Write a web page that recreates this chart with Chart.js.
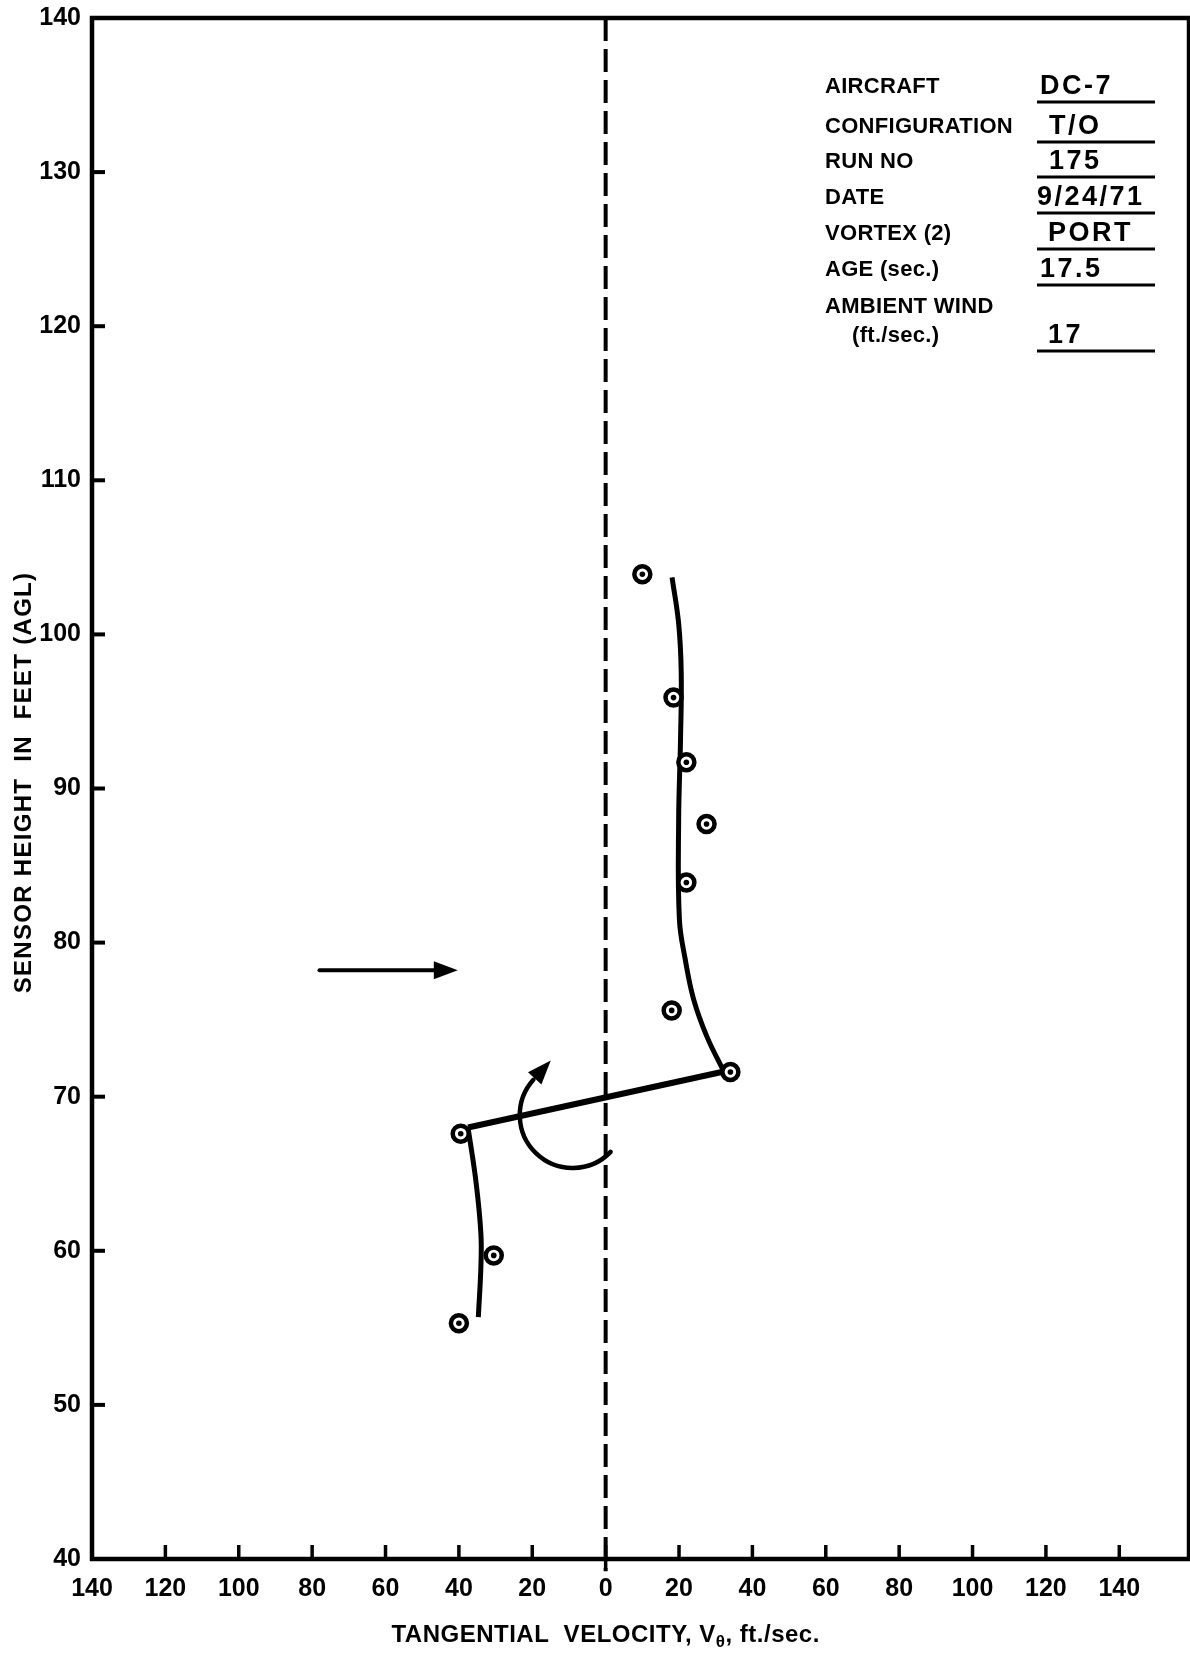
<!DOCTYPE html>
<html>
<head>
<meta charset="utf-8">
<script src="https://cdn.jsdelivr.net/npm/chart.js@4.4.0/dist/chart.umd.min.js"></script>
<style>
  html, body { margin: 0; padding: 0; background: #fff; }
  #wrap { width: 1190px; height: 1656px; }
</style>
</head>
<body>
<div id="wrap"><canvas id="chart" width="1190" height="1656"></canvas></div>
<script>
// ==================================================
// DATA
// ==================================================
// measured points: tangential velocity (ft/sec, left of 0 is negative) vs sensor height (ft)
const obsVelocity = [10, 18.5, 22, 27.5, 22, 18, 34, -39.5, -30.5, -40];
const obsHeight = [103.9, 95.9, 91.7, 87.7, 83.9, 75.6, 71.6, 67.6, 59.7, 55.3];

// faired curve through the upper points
const upperFitVelocity = [18.1, 19.9, 20.6, 20.4, 19.9, 20.1, 21.7, 24.0, 27.6, 32.3];
const upperFitHeight = [103.7, 100.7, 97.5, 93.1, 88, 81.5, 78.9, 76.3, 73.9, 71.6];

// straight jump across the core
const coreVelocity = [33.5, -37.5];
const coreHeight = [71.7, 68.0];

// faired curve through the lower points
const lowerFitVelocity = [-37.5, -35.3, -34.0, -34.0, -34.7];
const lowerFitHeight = [68.0, 64.4, 61.1, 59.0, 55.7];

// vortex centre line (dashed)
const zeroLineVelocity = [0, 0];
const zeroLineHeight = [140, 39.2];

// wind arrow + rotation arrow (in data units)
const windArrowVelocity = [-78, -40.3];
const windArrowHeight = 78.2;
const rotationCentre = [-9, 68.8];
const rotationRadius = 14.4;

// axis ticks
const xTickValues = [-140, -120, -100, -80, -60, -40, -20, 0, 20, 40, 60, 80, 100, 120, 140];
const yTickValues = [40, 50, 60, 70, 80, 90, 100, 110, 120, 130, 140];

// run info box
const infoLabels = ["AIRCRAFT", "CONFIGURATION", "RUN NO", "DATE", "VORTEX (2)", "AGE (sec.)", "AMBIENT WIND"];
const infoValues = ["DC-7", "T/O", "175", "9/24/71", "PORT", "17.5", "17"];

// ==================================================
// HELPERS
// ==================================================
const toPoints = (xs, ys) => xs.map((x, i) => ({ x: x, y: ys[i] }));
const FONT = "'Liberation Sans', Arial, sans-serif";

function arrowHead(ctx, tipX, tipY, angle, len, halfW) {
  ctx.save();
  ctx.translate(tipX, tipY);
  ctx.rotate(angle);
  ctx.beginPath();
  ctx.moveTo(0, 0);
  ctx.lineTo(-len, -halfW);
  ctx.lineTo(-len, halfW);
  ctx.closePath();
  ctx.fill();
  ctx.restore();
}

// ==================================================
// PLUGIN: frame, inward ticks, arrows, titles, info box
// ==================================================
const paperPlugin = {
  id: "paper",
  beforeDraw(chart) {
    const ctx = chart.ctx;
    ctx.save();
    ctx.fillStyle = "#fff";
    ctx.fillRect(0, 0, chart.width, chart.height);
    ctx.restore();
  },
  afterDraw(chart) {
    const ctx = chart.ctx;
    const xs = chart.scales.x;
    const ys = chart.scales.y;
    const a = chart.chartArea;
    ctx.save();
    ctx.strokeStyle = "#000";
    ctx.fillStyle = "#000";
    ctx.lineCap = "butt";

    // frame
    ctx.lineWidth = 4.5;
    ctx.strokeRect(a.left, a.top, a.right - a.left, a.bottom - a.top);

    // inward ticks on x
    ctx.lineWidth = 3.5;
    xs.ticks.forEach((t) => {
      if (t.value <= xs.min) return;
      const px = xs.getPixelForValue(t.value);
      ctx.beginPath();
      ctx.moveTo(px, a.bottom - 14);
      ctx.lineTo(px, a.bottom + (t.value === 0 ? 10 : 0));
      ctx.stroke();
    });
    // inward ticks on y
    ctx.lineWidth = 4;
    ys.ticks.forEach((t) => {
      if (t.value <= ys.min || t.value >= ys.max) return;
      const py = ys.getPixelForValue(t.value);
      ctx.beginPath();
      ctx.moveTo(a.left, py);
      ctx.lineTo(a.left + 13, py);
      ctx.stroke();
    });

    // wind arrow
    const wx0 = xs.getPixelForValue(windArrowVelocity[0]);
    const wx1 = xs.getPixelForValue(windArrowVelocity[1]);
    const wy = ys.getPixelForValue(windArrowHeight);
    ctx.lineWidth = 4;
    ctx.lineCap = "round";
    ctx.beginPath();
    ctx.moveTo(wx0, wy);
    ctx.lineTo(wx1 - 20, wy);
    ctx.stroke();
    arrowHead(ctx, wx1, wy, 0, 24, 9);

    // rotation arrow
    const cx = xs.getPixelForValue(rotationCentre[0]);
    const cy = ys.getPixelForValue(rotationCentre[1]);
    const r = Math.abs(xs.getPixelForValue(rotationRadius) - xs.getPixelForValue(0));
    const a0 = (44 * Math.PI) / 180;
    const a1 = (222 * Math.PI) / 180;
    ctx.lineWidth = 4.5;
    ctx.beginPath();
    ctx.arc(cx, cy, r, a0, a1, false);
    ctx.stroke();
    const ex = cx + r * Math.cos(a1);
    const ey = cy + r * Math.sin(a1);
    const dir = a1 + Math.PI / 2;
    arrowHead(ctx, ex + 26 * Math.cos(dir), ey + 26 * Math.sin(dir), dir, 24, 9);

    // axis titles
    ctx.lineCap = "butt";
    ctx.textBaseline = "middle";
    ctx.font = "bold 24px " + FONT;
    ctx.letterSpacing = "1.3px";
    ctx.save();
    ctx.translate(24, (a.top + a.bottom) / 2 - 6);
    ctx.rotate(-Math.PI / 2);
    ctx.textAlign = "center";
    ctx.fillText("SENSOR HEIGHT  IN  FEET (AGL)", 0, 0);
    ctx.restore();

    ctx.letterSpacing = "0.5px";
    const partA = "TANGENTIAL  VELOCITY, V";
    const partB = "\u03b8";
    const partC = ", ft./sec.";
    ctx.font = "bold 24px " + FONT;
    const wA = ctx.measureText(partA).width;
    const wC = ctx.measureText(partC).width;
    ctx.font = "bold 17px " + FONT;
    const wB = ctx.measureText(partB).width;
    const total = wA + wB + wC;
    let tx = xs.getPixelForValue(0) - total / 2;
    const ty = 1635;
    ctx.textAlign = "left";
    ctx.font = "bold 24px " + FONT;
    ctx.fillText(partA, tx, ty);
    tx += wA;
    ctx.font = "bold 17px " + FONT;
    ctx.fillText(partB, tx, ty + 7);
    tx += wB;
    ctx.font = "bold 24px " + FONT;
    ctx.fillText(partC, tx, ty);

    // info box
    ctx.letterSpacing = "0.3px";
    ctx.font = "bold 22px " + FONT;
    const rowY = [87, 127, 162, 198, 234, 270, 307];
    infoLabels.forEach((lab, i) => ctx.fillText(lab, 825, rowY[i]));
    ctx.fillText("(ft./sec.)", 852, 336);
    const valY = [87, 127, 162, 198, 234, 270, 336];
    const valX = [1040, 1049, 1049, 1037, 1048, 1040, 1048];
    ctx.letterSpacing = "2.5px";
    ctx.font = "bold 27px " + FONT;
    infoValues.forEach((v, i) => ctx.fillText(v, valX[i], valY[i]));
    ctx.lineWidth = 3;
    valY.forEach((y) => {
      ctx.beginPath();
      ctx.moveTo(1037, y + 15);
      ctx.lineTo(1155, y + 15);
      ctx.stroke();
    });
    ctx.restore();
  },
};

// ==================================================
// CHART JS
// ==================================================
const ctx = document.getElementById("chart").getContext("2d");

new Chart(ctx, {
  type: "scatter",
  data: {
    datasets: [
      {
        label: "centre dots",
        data: toPoints(obsVelocity, obsHeight),
        pointRadius: 2.8,
        pointBackgroundColor: "#000",
        pointBorderWidth: 0,
        showLine: false,
        order: 0,
      },
      {
        label: "measured",
        data: toPoints(obsVelocity, obsHeight),
        pointRadius: 8,
        pointBackgroundColor: "#fff",
        pointBorderColor: "#000",
        pointBorderWidth: 4.5,
        showLine: false,
        order: 1,
      },
      {
        label: "upper fit",
        data: toPoints(upperFitVelocity, upperFitHeight),
        showLine: true,
        borderColor: "#000",
        borderWidth: 5,
        tension: 0.4,
        pointRadius: 0,
        order: 2,
      },
      {
        label: "core",
        data: toPoints(coreVelocity, coreHeight),
        showLine: true,
        borderColor: "#000",
        borderWidth: 6,
        tension: 0,
        pointRadius: 0,
        order: 2,
      },
      {
        label: "lower fit",
        data: toPoints(lowerFitVelocity, lowerFitHeight),
        showLine: true,
        borderColor: "#000",
        borderWidth: 5,
        tension: 0.4,
        pointRadius: 0,
        order: 2,
      },
      {
        label: "zero",
        data: toPoints(zeroLineVelocity, zeroLineHeight),
        showLine: true,
        borderColor: "#000",
        borderWidth: 4,
        borderDash: [23, 8],
        pointRadius: 0,
        clip: false,
        order: 3,
      },
    ],
  },
  options: {
    responsive: false,
    animation: false,
    devicePixelRatio: 1,
    layout: { autoPadding: false, padding: { left: 0, top: 18, right: 1, bottom: 0 } },
    plugins: { legend: { display: false }, tooltip: { enabled: false } },
    scales: {
      x: {
        type: "linear",
        min: -140,
        max: 159,
        afterFit: (s) => {
          s.height = 97;
          s.paddingLeft = 0;
          s.paddingRight = 0;
        },
        afterBuildTicks: (s) => { s.ticks = xTickValues.map((v) => ({ value: v })); },
        grid: { display: false, drawTicks: false },
        border: { display: false },
        ticks: {
          autoSkip: false,
          maxRotation: 0,
          padding: 15,
          color: "#000",
          font: { family: FONT, size: 25, weight: "bold" },
          callback: (v) => Math.abs(v),
        },
      },
      y: {
        type: "linear",
        min: 40,
        max: 140,
        afterFit: (s) => {
          s.width = 92;
          s.paddingTop = 0;
          s.paddingBottom = 0;
        },
        afterBuildTicks: (s) => { s.ticks = yTickValues.map((v) => ({ value: v })); },
        grid: { display: false, drawTicks: false },
        border: { display: false },
        ticks: {
          padding: 11,
          color: "#000",
          font: { family: FONT, size: 25, weight: "bold" },
        },
      },
    },
  },
  plugins: [paperPlugin],
});
</script>
</body>
</html>
